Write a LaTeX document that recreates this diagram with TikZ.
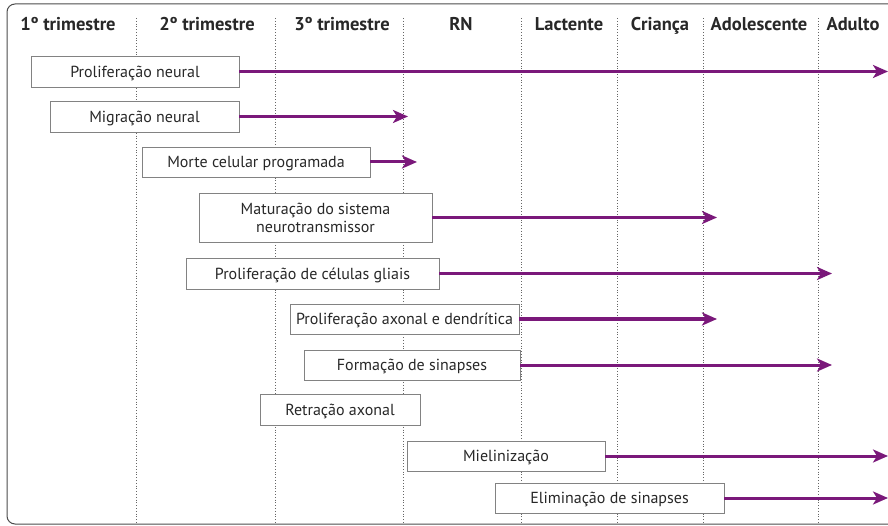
\documentclass[tikz,border=0pt]{standalone}
\usepackage{fontspec}
\setmainfont{PT Sans}
\usetikzlibrary{arrows.meta}
\definecolor{arrowpurple}{RGB}{122,24,122}
\definecolor{boxgray}{RGB}{130,130,130}
\definecolor{txtgray}{RGB}{40,40,40}
\begin{document}
\begin{tikzpicture}[x=1pt,y=-1pt,
  stagebox/.style={draw=boxgray, line width=0.9pt, fill=white, text=txtgray,
    font=\fontsize{16}{18}\selectfont, align=center, inner sep=0pt},
  oneline/.style={text height=11.2pt, text depth=0pt},
  devarrow/.style={draw=arrowpurple, line width=3pt,
    -{Stealth[length=15pt,width=13pt,inset=4pt]}},
  sep/.style={draw=gray!80!black, line width=0.8pt, dotted},
  head/.style={font=\fontsize{18.5}{20}\selectfont\bfseries, text=txtgray, inner sep=0pt, anchor=base}]
\useasboundingbox (0,0) rectangle (888,526);
% frame
\draw[draw=black!70, line width=1pt, rounded corners=8pt] (888,4) -- (7,4) -- (7,524) -- (888,524);
% separators
\foreach \xx [count=\i] in {136,275,403,521,617,703,818}{
  \coordinate (st\i) at (\xx,18);
  \coordinate (sb\i) at (\xx,524);
  \draw[sep] (st\i) -- (sb\i);
}
% headers
\node[head] (h1) at (68,31) {1º trimestre};
\node[head] (h2) at (207,31) {2º trimestre};
\node[head] (h3) at (342,31) {3º trimestre};
\node[head] (h4) at (461,31) {RN};
\node[head] (h5) at (569,31) {Lactente};
\node[head] (h6) at (660,31) {Criança};
\node[head] (h7) at (759,31) {Adolescente};
\node[head] (h8) at (853,31) {Adulto};
% boxes
\node[stagebox, oneline, minimum width=208pt, minimum height=31pt] (b1) at (135,71.5) {Proliferação neural};
\node[stagebox, oneline, minimum width=189pt, minimum height=31pt] (b2) at (144.5,116.5) {Migração neural};
\node[stagebox, oneline, minimum width=228pt, minimum height=30pt] (b3) at (256,162) {Morte celular programada};
\node[stagebox, minimum width=233pt, minimum height=49pt] (b4) at (315.5,217.5) {Maturação do sistema\\neurotransmissor};
\node[stagebox, oneline, minimum width=253pt, minimum height=31pt] (b5) at (312.5,273.5) {Proliferação de células gliais};
\node[stagebox, oneline, minimum width=229pt, minimum height=30pt] (b6) at (404.5,319) {Proliferação axonal e dendrítica};
\node[stagebox, oneline, minimum width=216pt, minimum height=30pt] (b7) at (412,365) {Formação de sinapses};
\node[stagebox, oneline, minimum width=160pt, minimum height=31pt] (b8) at (340,409.5) {Retração axonal};
\node[stagebox, oneline, minimum width=198pt, minimum height=30pt] (b9) at (506,456) {Mielinização};
\node[stagebox, oneline, minimum width=229pt, minimum height=30pt] (b10) at (609.5,498) {Eliminação de sinapses};
% arrow ends
\coordinate (e1) at (888,71.5);
\coordinate (e2) at (408,116.5);
\coordinate (e3) at (417,162);
\coordinate (e4) at (717,217.5);
\coordinate (e5) at (832,273.5);
\coordinate (e6) at (717,319);
\coordinate (e7) at (832,365);
\coordinate (e9) at (888,456);
\coordinate (e10) at (888,498);
\foreach \n in {1,2,3,4,5,6,7,9,10}{
  \draw[devarrow] (b\n) -- (e\n);
}
\end{tikzpicture}
\end{document}
